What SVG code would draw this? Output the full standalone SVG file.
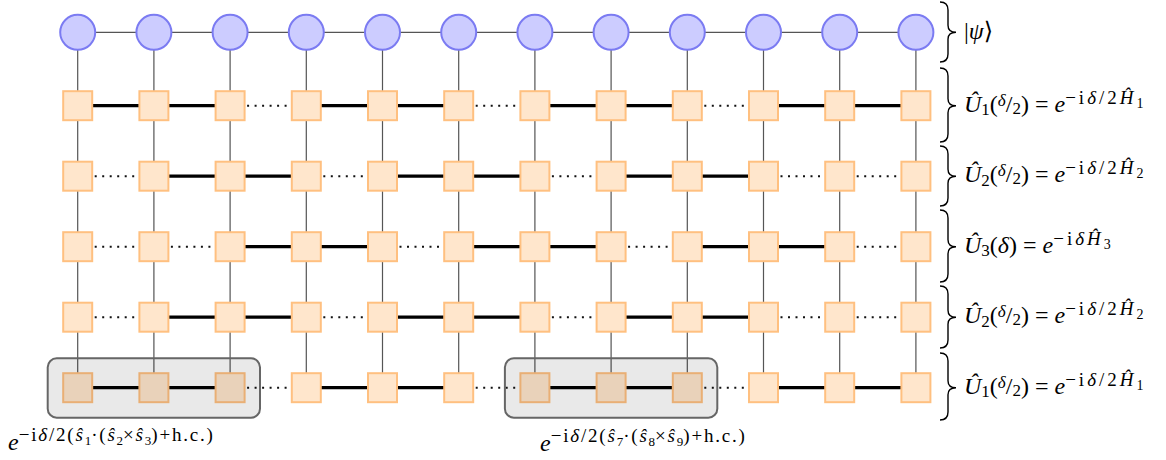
<svg xmlns="http://www.w3.org/2000/svg" width="1166" height="460" viewBox="0 0 1166 460">
<style>
.thin{stroke:#555;stroke-width:1.2;fill:none}
.thick{stroke:#000;stroke-width:3.3;fill:none}
.dot{stroke:#111;stroke-width:2;stroke-dasharray:2 5.5;fill:none}
.cir{fill:#CCCCFF;stroke:#7B7BF2;stroke-width:2}
.sq{fill:#FFE6CC;stroke:#FFC080;stroke-width:2}
.blk{fill:#000;fill-opacity:0.085;stroke:#666;stroke-width:2}
.br{fill:none;stroke:#000;stroke-width:1.4}
text{font-family:"Liberation Serif","Times New Roman","DejaVu Serif",serif;font-size:24px;fill:#000}
.i{font-style:italic}
</style>
<rect width="1166" height="460" fill="#fff"/>
<g id="connectors">
<path class="thin" d="M77.7 32.3H915.9"/>
<path class="thin" d="M77.7 32.3V387.7M153.9 32.3V387.7M230.1 32.3V387.7M306.3 32.3V387.7M382.5 32.3V387.7M458.7 32.3V387.7M534.9 32.3V387.7M611.1 32.3V387.7M687.3 32.3V387.7M763.5 32.3V387.7M839.7 32.3V387.7M915.9 32.3V387.7"/>
<path class="thick" d="M77.7 105.7H230.1M306.3 105.7H458.7M534.9 105.7H687.3M763.5 105.7H915.9"/>
<path class="thick" d="M77.7 387.7H230.1M306.3 387.7H458.7M534.9 387.7H687.3M763.5 387.7H915.9"/>
<path class="thick" d="M153.9 176.2H306.3M382.5 176.2H534.9M611.1 176.2H763.5"/>
<path class="thick" d="M153.9 317.2H306.3M382.5 317.2H534.9M611.1 317.2H763.5"/>
<path class="thick" d="M230.1 246.7H382.5M458.7 246.7H611.1M687.3 246.7H839.7"/>
<path class="dot" d="M247.1 105.7H290.3M475.7 105.7H518.9M704.3 105.7H747.5"/>
<path class="dot" d="M247.1 387.7H290.3M475.7 387.7H518.9M704.3 387.7H747.5"/>
<path class="dot" d="M94.7 176.2H137.9M323.3 176.2H366.5M551.9 176.2H595.1M780.5 176.2H823.7M856.7 176.2H899.9"/>
<path class="dot" d="M94.7 317.2H137.9M323.3 317.2H366.5M551.9 317.2H595.1M780.5 317.2H823.7M856.7 317.2H899.9"/>
<path class="dot" d="M94.7 246.7H137.9M170.9 246.7H214.1M399.5 246.7H442.7M628.1 246.7H671.3M856.7 246.7H899.9"/>
</g>
<g id="psi-1"><circle class="cir" cx="77.7" cy="32.3" r="17.5"/></g>
<g id="psi-2"><circle class="cir" cx="153.9" cy="32.3" r="17.5"/></g>
<g id="psi-3"><circle class="cir" cx="230.1" cy="32.3" r="17.5"/></g>
<g id="psi-4"><circle class="cir" cx="306.3" cy="32.3" r="17.5"/></g>
<g id="psi-5"><circle class="cir" cx="382.5" cy="32.3" r="17.5"/></g>
<g id="psi-6"><circle class="cir" cx="458.7" cy="32.3" r="17.5"/></g>
<g id="psi-7"><circle class="cir" cx="534.9" cy="32.3" r="17.5"/></g>
<g id="psi-8"><circle class="cir" cx="611.1" cy="32.3" r="17.5"/></g>
<g id="psi-9"><circle class="cir" cx="687.3" cy="32.3" r="17.5"/></g>
<g id="psi-10"><circle class="cir" cx="763.5" cy="32.3" r="17.5"/></g>
<g id="psi-11"><circle class="cir" cx="839.7" cy="32.3" r="17.5"/></g>
<g id="psi-12"><circle class="cir" cx="915.9" cy="32.3" r="17.5"/></g>
<g id="u1a-1"><rect class="sq" x="63.2" y="91.2" width="29" height="29"/></g>
<g id="u1a-2"><rect class="sq" x="139.4" y="91.2" width="29" height="29"/></g>
<g id="u1a-3"><rect class="sq" x="215.6" y="91.2" width="29" height="29"/></g>
<g id="u1a-4"><rect class="sq" x="291.8" y="91.2" width="29" height="29"/></g>
<g id="u1a-5"><rect class="sq" x="368" y="91.2" width="29" height="29"/></g>
<g id="u1a-6"><rect class="sq" x="444.2" y="91.2" width="29" height="29"/></g>
<g id="u1a-7"><rect class="sq" x="520.4" y="91.2" width="29" height="29"/></g>
<g id="u1a-8"><rect class="sq" x="596.6" y="91.2" width="29" height="29"/></g>
<g id="u1a-9"><rect class="sq" x="672.8" y="91.2" width="29" height="29"/></g>
<g id="u1a-10"><rect class="sq" x="749" y="91.2" width="29" height="29"/></g>
<g id="u1a-11"><rect class="sq" x="825.2" y="91.2" width="29" height="29"/></g>
<g id="u1a-12"><rect class="sq" x="901.4" y="91.2" width="29" height="29"/></g>
<g id="u2a-1"><rect class="sq" x="63.2" y="161.7" width="29" height="29"/></g>
<g id="u2a-2"><rect class="sq" x="139.4" y="161.7" width="29" height="29"/></g>
<g id="u2a-3"><rect class="sq" x="215.6" y="161.7" width="29" height="29"/></g>
<g id="u2a-4"><rect class="sq" x="291.8" y="161.7" width="29" height="29"/></g>
<g id="u2a-5"><rect class="sq" x="368" y="161.7" width="29" height="29"/></g>
<g id="u2a-6"><rect class="sq" x="444.2" y="161.7" width="29" height="29"/></g>
<g id="u2a-7"><rect class="sq" x="520.4" y="161.7" width="29" height="29"/></g>
<g id="u2a-8"><rect class="sq" x="596.6" y="161.7" width="29" height="29"/></g>
<g id="u2a-9"><rect class="sq" x="672.8" y="161.7" width="29" height="29"/></g>
<g id="u2a-10"><rect class="sq" x="749" y="161.7" width="29" height="29"/></g>
<g id="u2a-11"><rect class="sq" x="825.2" y="161.7" width="29" height="29"/></g>
<g id="u2a-12"><rect class="sq" x="901.4" y="161.7" width="29" height="29"/></g>
<g id="u3-1"><rect class="sq" x="63.2" y="232.2" width="29" height="29"/></g>
<g id="u3-2"><rect class="sq" x="139.4" y="232.2" width="29" height="29"/></g>
<g id="u3-3"><rect class="sq" x="215.6" y="232.2" width="29" height="29"/></g>
<g id="u3-4"><rect class="sq" x="291.8" y="232.2" width="29" height="29"/></g>
<g id="u3-5"><rect class="sq" x="368" y="232.2" width="29" height="29"/></g>
<g id="u3-6"><rect class="sq" x="444.2" y="232.2" width="29" height="29"/></g>
<g id="u3-7"><rect class="sq" x="520.4" y="232.2" width="29" height="29"/></g>
<g id="u3-8"><rect class="sq" x="596.6" y="232.2" width="29" height="29"/></g>
<g id="u3-9"><rect class="sq" x="672.8" y="232.2" width="29" height="29"/></g>
<g id="u3-10"><rect class="sq" x="749" y="232.2" width="29" height="29"/></g>
<g id="u3-11"><rect class="sq" x="825.2" y="232.2" width="29" height="29"/></g>
<g id="u3-12"><rect class="sq" x="901.4" y="232.2" width="29" height="29"/></g>
<g id="u2b-1"><rect class="sq" x="63.2" y="302.7" width="29" height="29"/></g>
<g id="u2b-2"><rect class="sq" x="139.4" y="302.7" width="29" height="29"/></g>
<g id="u2b-3"><rect class="sq" x="215.6" y="302.7" width="29" height="29"/></g>
<g id="u2b-4"><rect class="sq" x="291.8" y="302.7" width="29" height="29"/></g>
<g id="u2b-5"><rect class="sq" x="368" y="302.7" width="29" height="29"/></g>
<g id="u2b-6"><rect class="sq" x="444.2" y="302.7" width="29" height="29"/></g>
<g id="u2b-7"><rect class="sq" x="520.4" y="302.7" width="29" height="29"/></g>
<g id="u2b-8"><rect class="sq" x="596.6" y="302.7" width="29" height="29"/></g>
<g id="u2b-9"><rect class="sq" x="672.8" y="302.7" width="29" height="29"/></g>
<g id="u2b-10"><rect class="sq" x="749" y="302.7" width="29" height="29"/></g>
<g id="u2b-11"><rect class="sq" x="825.2" y="302.7" width="29" height="29"/></g>
<g id="u2b-12"><rect class="sq" x="901.4" y="302.7" width="29" height="29"/></g>
<g id="u1b-1"><rect class="sq" x="63.2" y="373.2" width="29" height="29"/></g>
<g id="u1b-2"><rect class="sq" x="139.4" y="373.2" width="29" height="29"/></g>
<g id="u1b-3"><rect class="sq" x="215.6" y="373.2" width="29" height="29"/></g>
<g id="u1b-4"><rect class="sq" x="291.8" y="373.2" width="29" height="29"/></g>
<g id="u1b-5"><rect class="sq" x="368" y="373.2" width="29" height="29"/></g>
<g id="u1b-6"><rect class="sq" x="444.2" y="373.2" width="29" height="29"/></g>
<g id="u1b-7"><rect class="sq" x="520.4" y="373.2" width="29" height="29"/></g>
<g id="u1b-8"><rect class="sq" x="596.6" y="373.2" width="29" height="29"/></g>
<g id="u1b-9"><rect class="sq" x="672.8" y="373.2" width="29" height="29"/></g>
<g id="u1b-10"><rect class="sq" x="749" y="373.2" width="29" height="29"/></g>
<g id="u1b-11"><rect class="sq" x="825.2" y="373.2" width="29" height="29"/></g>
<g id="u1b-12"><rect class="sq" x="901.4" y="373.2" width="29" height="29"/></g>
<g id="block-123">
<rect class="blk" x="47.7" y="358.3" width="212.3" height="59.4" rx="9"/>
<text x="8" y="450"><tspan class="i">e</tspan><tspan font-size="19" dy="-9" letter-spacing="1.8">−i<tspan class="i">δ</tspan>/2(<tspan class="i">ŝ</tspan></tspan><tspan font-size="13" dy="4">1</tspan><tspan font-size="19" dy="-4" letter-spacing="1.8">·(<tspan class="i">ŝ</tspan></tspan><tspan font-size="13" dy="4">2</tspan><tspan font-size="19" dy="-4" letter-spacing="1.8">×<tspan class="i">ŝ</tspan></tspan><tspan font-size="13" dy="4">3</tspan><tspan font-size="19" dy="-4" letter-spacing="1.8">)+h.c.)</tspan></text>
</g>
<g id="block-789">
<rect class="blk" x="504.9" y="358.3" width="212.4" height="59.4" rx="9"/>
<text x="540" y="451"><tspan class="i">e</tspan><tspan font-size="19" dy="-9" letter-spacing="1.8">−i<tspan class="i">δ</tspan>/2(<tspan class="i">ŝ</tspan></tspan><tspan font-size="13" dy="4">7</tspan><tspan font-size="19" dy="-4" letter-spacing="1.8">·(<tspan class="i">ŝ</tspan></tspan><tspan font-size="13" dy="4">8</tspan><tspan font-size="19" dy="-4" letter-spacing="1.8">×<tspan class="i">ŝ</tspan></tspan><tspan font-size="13" dy="4">9</tspan><tspan font-size="19" dy="-4" letter-spacing="1.8">)+h.c.)</tspan></text>
</g>
<g id="label-psi">
<path class="br" d="M940 2Q948 2 948 10L948 25.3Q948 32.3 956 32.3Q948 32.3 948 39.3L948 54Q948 62 940 62"/>
<text x="964" y="39">|<tspan class="i">ψ</tspan>⟩</text>
</g>
<g id="label-u1a">
<path class="br" d="M940 68Q948 68 948 76L948 98.7Q948 105.7 956 105.7Q948 105.7 948 112.7L948 134Q948 142 940 142"/>
<text x="964" y="111.7"><tspan class="i">Û</tspan><tspan font-size="17" dy="3.5">1</tspan><tspan dy="-3.5">(</tspan><tspan class="i" font-size="17" dy="-6">δ</tspan><tspan dy="6">/</tspan><tspan font-size="17" dy="2">2</tspan><tspan dy="-2">)</tspan> = <tspan class="i">e</tspan><tspan font-size="19" dy="-8" letter-spacing="3">−i<tspan class="i">δ</tspan>/2<tspan class="i">Ĥ</tspan></tspan><tspan font-size="14" dy="4">1</tspan></text>
</g>
<g id="label-u2a">
<path class="br" d="M940 146Q948 146 948 154L948 169.2Q948 176.2 956 176.2Q948 176.2 948 183.2L948 198Q948 206 940 206"/>
<text x="964" y="182.2"><tspan class="i">Û</tspan><tspan font-size="17" dy="3.5">2</tspan><tspan dy="-3.5">(</tspan><tspan class="i" font-size="17" dy="-6">δ</tspan><tspan dy="6">/</tspan><tspan font-size="17" dy="2">2</tspan><tspan dy="-2">)</tspan> = <tspan class="i">e</tspan><tspan font-size="19" dy="-8" letter-spacing="3">−i<tspan class="i">δ</tspan>/2<tspan class="i">Ĥ</tspan></tspan><tspan font-size="14" dy="4">2</tspan></text>
</g>
<g id="label-u3">
<path class="br" d="M940 210Q948 210 948 218L948 239.7Q948 246.7 956 246.7Q948 246.7 948 253.7L948 274Q948 282 940 282"/>
<text x="964" y="252.7"><tspan class="i">Û</tspan><tspan font-size="17" dy="3.5">3</tspan><tspan dy="-3.5">(</tspan><tspan class="i">δ</tspan>) = <tspan class="i">e</tspan><tspan font-size="19" dy="-8" letter-spacing="3">−i<tspan class="i">δĤ</tspan></tspan><tspan font-size="14" dy="4">3</tspan></text>
</g>
<g id="label-u2b">
<path class="br" d="M940 286Q948 286 948 294L948 310.2Q948 317.2 956 317.2Q948 317.2 948 324.2L948 340Q948 348 940 348"/>
<text x="964" y="323.2"><tspan class="i">Û</tspan><tspan font-size="17" dy="3.5">2</tspan><tspan dy="-3.5">(</tspan><tspan class="i" font-size="17" dy="-6">δ</tspan><tspan dy="6">/</tspan><tspan font-size="17" dy="2">2</tspan><tspan dy="-2">)</tspan> = <tspan class="i">e</tspan><tspan font-size="19" dy="-8" letter-spacing="3">−i<tspan class="i">δ</tspan>/2<tspan class="i">Ĥ</tspan></tspan><tspan font-size="14" dy="4">2</tspan></text>
</g>
<g id="label-u1b">
<path class="br" d="M940 353Q948 353 948 361L948 380.7Q948 387.7 956 387.7Q948 387.7 948 394.7L948 412Q948 420 940 420"/>
<text x="964" y="393.7"><tspan class="i">Û</tspan><tspan font-size="17" dy="3.5">1</tspan><tspan dy="-3.5">(</tspan><tspan class="i" font-size="17" dy="-6">δ</tspan><tspan dy="6">/</tspan><tspan font-size="17" dy="2">2</tspan><tspan dy="-2">)</tspan> = <tspan class="i">e</tspan><tspan font-size="19" dy="-8" letter-spacing="3">−i<tspan class="i">δ</tspan>/2<tspan class="i">Ĥ</tspan></tspan><tspan font-size="14" dy="4">1</tspan></text>
</g>
</svg>
